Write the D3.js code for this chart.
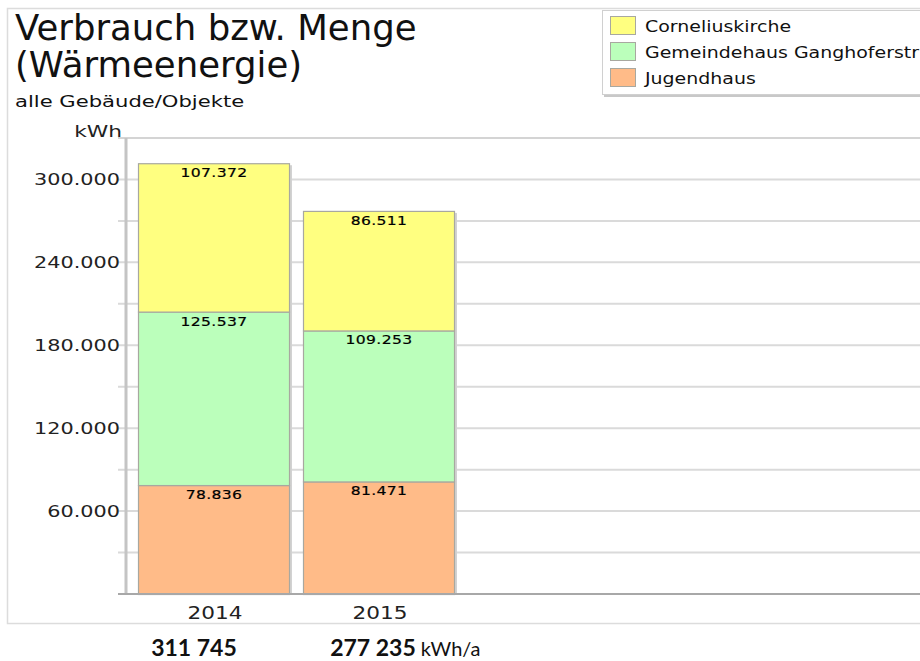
<!DOCTYPE html>
<html>
<head>
<meta charset="utf-8">
<script src="https://cdn.jsdelivr.net/npm/d3@7"></script>
<style>
  html, body { margin: 0; padding: 0; background: #fff; overflow: hidden; }
  svg { display: block; font-family: "DejaVu Sans", Verdana, sans-serif; }
</style>
</head>
<body>
<div id="chart"></div>
<script>
// Data
let years = ["2014", "2015"];
let seriesNames = ["Jugendhaus", "Gemeindehaus Ganghoferstr", "Corneliuskirche"];
let jugendhaus = [78836, 81471];
let gemeindehaus = [125537, 109253];
let corneliuskirche = [107372, 86511];
let yLabelTicks = [60000, 120000, 180000, 240000, 300000];
let yGridTicks = [30000, 60000, 90000, 120000, 150000, 180000, 210000, 240000, 270000, 300000, 330000];
let colors = ["#ffbb88", "#bbffbb", "#ffff80"];

let rows = years.map((y, i) => ({
    year: y,
    [seriesNames[0]]: jugendhaus[i],
    [seriesNames[1]]: gemeindehaus[i],
    [seriesNames[2]]: corneliuskirche[i]
}));

let fmt = d3.formatLocale({ decimal: ",", thousands: ".", grouping: [3], currency: ["", " €"] }).format(",d");
let fmtSpace = d3.formatLocale({ decimal: ",", thousands: " ", grouping: [3], currency: ["", ""] }).format(",d");

let W = 920, H = 661;
let svg = d3.select("#chart").append("svg")
    .attr("width", W)
    .attr("height", H);

// horizontally stretched text (the source font renders wide)
function stretchText(g, x, y, str, size, sx, anchor) {
    return g.append("text")
        .attr("transform", `translate(${x},${y}) scale(${sx},1)`)
        .attr("text-anchor", anchor || "start")
        .style("font-size", size + "px")
        .attr("fill", "#111")
        .text(str);
}

// outer frame
svg.append("rect")
    .attr("x", 7.5).attr("y", 8.5)
    .attr("width", W).attr("height", 615)
    .attr("fill", "none")
    .attr("stroke", "#dcdcdc")
    .attr("stroke-width", 1.5);

let plot = { left: 126, right: W, top: 138, bottom: 594 };

let x = d3.scaleBand()
    .domain(years)
    .range([138, 455])
    .paddingInner(13 / 165)
    .paddingOuter(0);

let y = d3.scaleLinear()
    .domain([0, 330000])
    .range([plot.bottom, plot.top]);

// grid lines
svg.append("g").selectAll("line")
    .data(yGridTicks)
    .join("line")
    .attr("x1", plot.left - 8)
    .attr("x2", plot.right)
    .attr("y1", d => y(d))
    .attr("y2", d => y(d))
    .attr("stroke", d => d === 330000 ? "#d4d4d4" : "#dadada")
    .attr("stroke-width", 2);

// y axis line
svg.append("line")
    .attr("x1", plot.left).attr("x2", plot.left)
    .attr("y1", plot.top).attr("y2", plot.bottom)
    .attr("stroke", "#c4c4c4")
    .attr("stroke-width", 3);

// y tick labels
let yLab = svg.append("g");
yLabelTicks.forEach(t => {
    stretchText(yLab, 120, y(t) + 6, fmt(t), 16, 1.3, "end").attr("fill", "#222");
});
stretchText(svg, 122, 137, "kWh", 16, 1.36, "end").attr("fill", "#222");

// stacked bars
let stacked = d3.stack().keys(seriesNames)(rows);

// shadows
svg.append("g").selectAll("rect")
    .data(rows)
    .join("rect")
    .attr("x", d => x(d.year) + 2)
    .attr("y", d => y(d3.sum(seriesNames, k => d[k])) + 2)
    .attr("width", x.bandwidth())
    .attr("height", d => plot.bottom - y(d3.sum(seriesNames, k => d[k])) - 2)
    .attr("fill", "#d2d2d2");

let layers = svg.append("g").selectAll("g")
    .data(stacked)
    .join("g")
    .attr("fill", (d, i) => colors[i]);

layers.selectAll("rect")
    .data(d => d)
    .join("rect")
    .attr("x", d => x(d.data.year) + 0.5)
    .attr("y", d => y(d[1]) + 0.5)
    .attr("width", x.bandwidth() - 1)
    .attr("height", d => y(d[0]) - y(d[1]))
    .attr("stroke", "#a8a8a0")
    .attr("stroke-width", 1.2);

// value labels
let valG = svg.append("g");
stacked.forEach(layer => {
    layer.forEach(v => {
        stretchText(valG, x(v.data.year) + x.bandwidth() / 2, y(v[1]) + 14, fmt(v[1] - v[0]), 13, 1.2, "middle")
            .attr("fill", "#000")
            .attr("stroke", "#000")
            .attr("stroke-width", 0.2)
            .style("letter-spacing", "0.3px");
    });
});

// x axis line
svg.append("line")
    .attr("x1", plot.left - 8).attr("x2", plot.right)
    .attr("y1", plot.bottom).attr("y2", plot.bottom)
    .attr("stroke", "#a8a8a8")
    .attr("stroke-width", 2);

// x labels
years.forEach(yr => {
    stretchText(svg, x(yr) + x.bandwidth() / 2 + 1, 619, yr, 17, 1.27, "middle").attr("fill", "#222");
});

// title
svg.append("text").attr("x", 15).attr("y", 40)
    .style("font-size", "35.5px").attr("fill", "#111")
    .text("Verbrauch bzw. Menge");
svg.append("text").attr("x", 15).attr("y", 77)
    .style("font-size", "35.5px").attr("fill", "#111")
    .text("(Wärmeenergie)");
stretchText(svg, 15, 107, "alle Gebäude/Objekte", 16, 1.32);

// legend
let legend = svg.append("g");
legend.append("rect")
    .attr("x", 604).attr("y", 12)
    .attr("width", 340).attr("height", 85)
    .attr("fill", "#c8c8c8");
legend.append("rect")
    .attr("x", 602.5).attr("y", 10.5)
    .attr("width", 340).attr("height", 84)
    .attr("fill", "#fff")
    .attr("stroke", "#d0d0d0");
seriesNames.slice().reverse().forEach((name, i) => {
    let ci = seriesNames.length - 1 - i;
    legend.append("rect")
        .attr("x", 610.5).attr("y", 16.5 + i * 26)
        .attr("width", 25).attr("height", 18)
        .attr("fill", colors[ci])
        .attr("stroke", "#a8a8a0");
    stretchText(legend, 645, 32 + i * 26, name, 16, 1.185).attr("fill", "#111");
});

// totals below the chart
let totals = rows.map(r => d3.sum(seriesNames, k => r[k]));
let totalX = [x(years[0]) + x.bandwidth() / 2 - 20, x(years[1]) + x.bandwidth() / 2 - 6];
let lastText;
totals.forEach((t, i) => {
    lastText = svg.append("text")
        .attr("x", totalX[i])
        .attr("y", 656)
        .attr("text-anchor", "middle")
        .style("font-family", "Lato, 'Open Sans', sans-serif")
        .style("font-weight", "bold")
        .style("font-size", "23px")
        .attr("fill", "#111")
        .text(fmtSpace(t));
});
let bb = lastText.node().getBBox();
svg.append("text")
    .attr("x", bb.x + bb.width + 5)
    .attr("y", 656)
    .style("font-family", "Lato, 'Open Sans', sans-serif")
    .style("font-size", "20px")
    .attr("fill", "#111")
    .text("kWh/a");
</script>
</body>
</html>
